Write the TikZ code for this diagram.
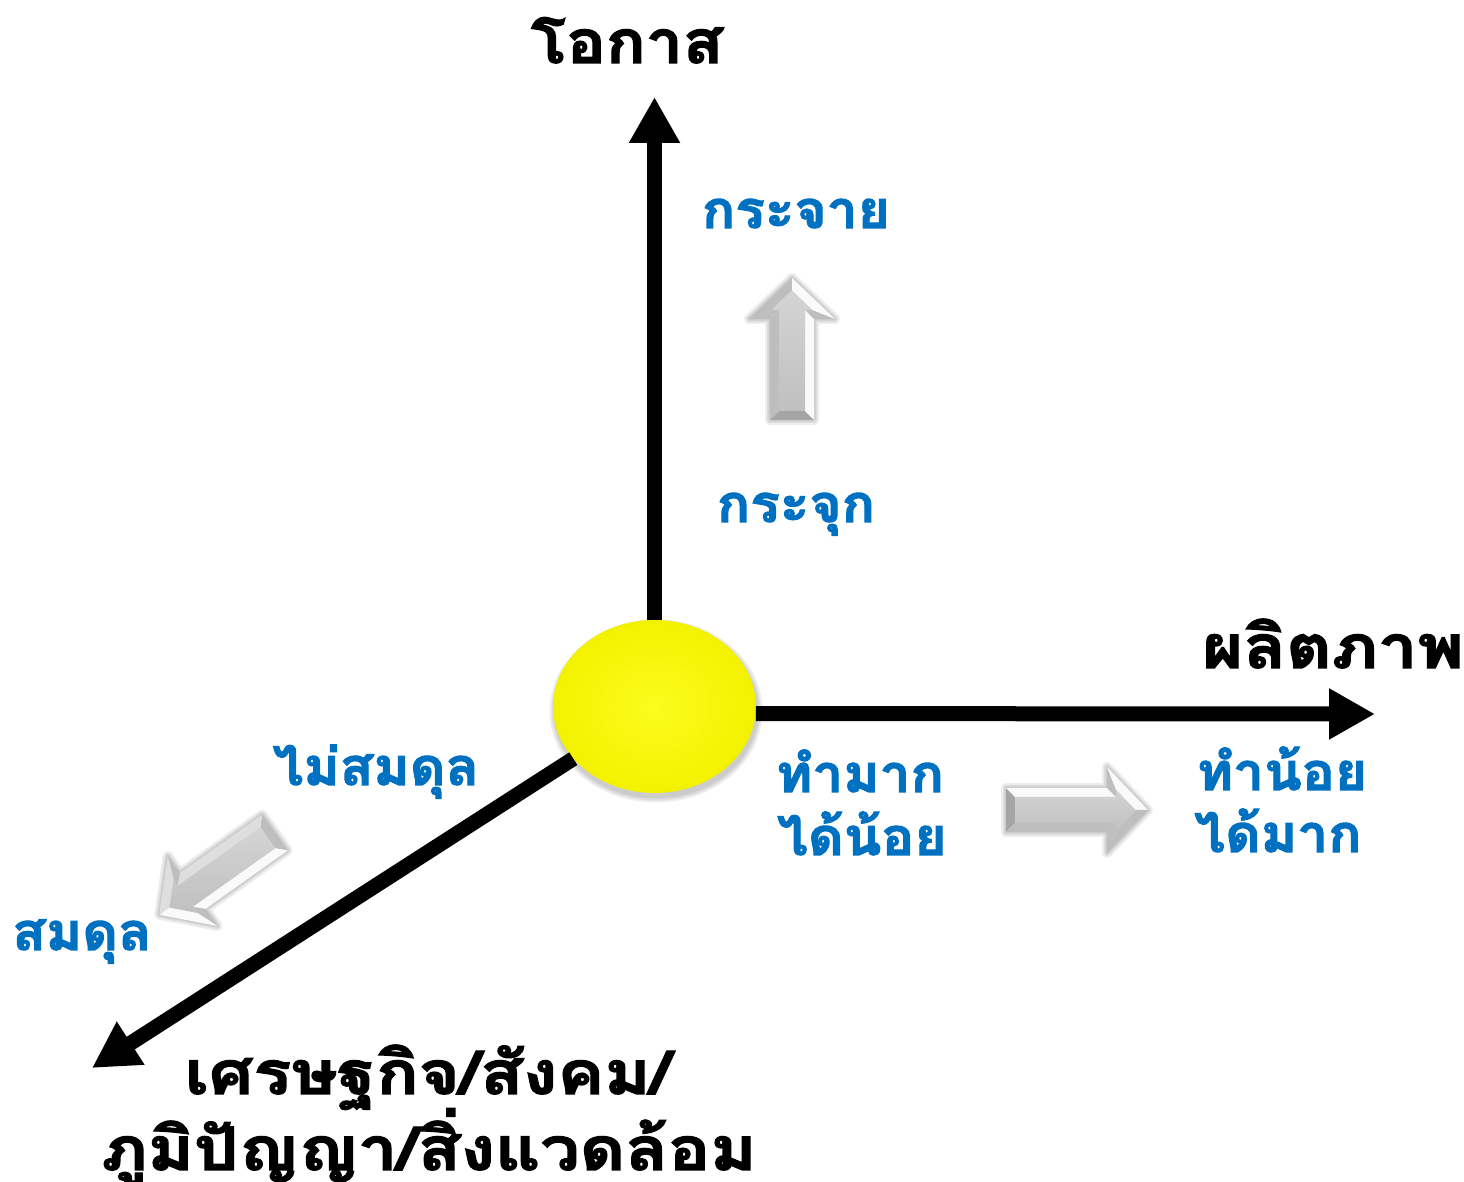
\documentclass[tikz,border=0pt]{standalone}
\usepackage{fontspec}
\newfontfamily\thaifont[Script=Thai, BoldFeatures={FakeBold=2}]{Loma}
\usetikzlibrary{arrows.meta,shapes.geometric}

\definecolor{labelblue}{RGB}{0,112,192}
\definecolor{sun}{RGB}{252,252,30}
\definecolor{sunrim}{RGB}{242,242,0}
\definecolor{bvWhite}{RGB}{250,250,250}
\definecolor{bvLight}{RGB}{222,222,222}
\definecolor{bvMid}{RGB}{190,190,190}
\definecolor{bvDark}{RGB}{165,165,165}
\definecolor{bvFaceA}{RGB}{212,212,212}
\definecolor{bvFaceB}{RGB}{192,192,192}

\tikzset{
  axis/.style={line width=15pt, black, -{Triangle[width=48pt,length=46pt]}},
  axislabel/.style={font=\thaifont\bfseries\fontsize{60}{68}\selectfont, anchor=base, inner sep=0pt,
                    xscale=1.17, transform shape},
  poslabel/.style={font=\thaifont\bfseries\fontsize{52}{60}\selectfont, text=labelblue, anchor=base, inner sep=0pt,
                   xscale=1.06, transform shape},
  softshadow/.style={black, opacity=0.07},
  % bevelled block arrow along local +x, tail centre at the origin;
  % #1 = bevel colour of the +y side, #2 = of the -y side, #3 = tail bevel
  pics/bevelarrow/.style args={#1/#2/#3}{code={
    \foreach \w in {10,6,3}
      \draw[softshadow, line width=\w pt, line join=round]
        (0,22) -- (101,22) -- (101,43) -- (142,0) -- (101,-43) -- (101,-22) -- (0,-22) -- cycle;
    \fill[#3] (0,22) -- (9,13) -- (9,-13) -- (0,-22) -- cycle;
    \fill[#1] (0,22) -- (101,22) -- (110,13) -- (9,13) -- cycle;
    \fill[#2] (0,-22) -- (101,-22) -- (110,-13) -- (9,-13) -- cycle;
    \fill[bvMid] (101,22) -- (101,43) -- (110,20.5) -- (110,13) -- cycle;
    \fill[bvMid] (101,-22) -- (101,-43) -- (110,-20.5) -- (110,-13) -- cycle;
    \fill[#1] (101,43) -- (142,0) -- (129.6,0) -- (110,20.5) -- cycle;
    \fill[#2] (101,-43) -- (142,0) -- (129.6,0) -- (110,-20.5) -- cycle;
    \shade[top color=bvFaceA, bottom color=bvFaceB]
      (9,13) -- (110,13) -- (110,20.5) -- (129.6,0) -- (110,-20.5) -- (110,-13) -- (9,-13) -- cycle;
  }}
}

\begin{document}
\begin{tikzpicture}[x=1pt, y=1pt]
  \fill[white] (0,0) rectangle (1464,1182);
  \useasboundingbox (0,0) rectangle (1464,1182);

  % soft shadow under the centre disc
  \foreach \g in {5,3,1}
    \fill[softshadow] (656,471) ellipse ({101.5+\g} and {86.5+\g});

  % centre of the three axes
  \node[ellipse, minimum width=203pt, minimum height=173pt, inner sep=0pt,
        inner color=sun, outer color=sunrim] (ctr) at (654.5,475.5) {};

  % axis end points
  \coordinate (ytip) at (654.5,1085);
  \coordinate (xtip) at (1375,468);
  \coordinate (ztip) at (92,114);

  \draw[axis] (ctr) -- (ytip);
  \draw[axis] (ctr.-4.24) -- (xtip);
  \draw[axis] (ctr) -- (ztip);

  % axis titles
  \node[axislabel, xscale=0.94] (opp) at (627,1119) {โอกาส};
  \node[axislabel] (prod)  at (1333,514) {ผลิตภาพ};
  \node[axislabel] (econa) at (428,88)  {เศรษฐกิจ/สังคม/};
  \node[axislabel] (econb) at (429,12)  {ภูมิปัญญา/สิ่งแวดล้อม};

  % opportunity axis
  \node[poslabel] (spread)  at (796,954) {กระจาย};
  \node[poslabel] (cluster) at (796,660) {กระจุก};
  \pic[rotate=90] (uparr) at (792,762) {bevelarrow=bvMid/bvWhite/bvDark};

  % productivity axis
  \node[poslabel] (mwa) at (860,390) {ทำมาก};
  \node[poslabel] (mwb) at (862,327) {ได้น้อย};
  \node[poslabel] (lwa) at (1282,392) {ทำน้อย};
  \node[poslabel] (lwb) at (1278,330) {ได้มาก};
  \pic (rtarr) at (1006,372) {bevelarrow=bvWhite/bvMid/bvDark};

  % balance axis
  \node[poslabel] (unbal) at (376,397) {ไม่สมดุล};
  \node[poslabel] (bal)   at (82,232)  {สมดุล};
  \pic[rotate=215.4] (dgarr) at (275,349.5) {bevelarrow=bvWhite/bvLight/bvMid};
\end{tikzpicture}
\end{document}
